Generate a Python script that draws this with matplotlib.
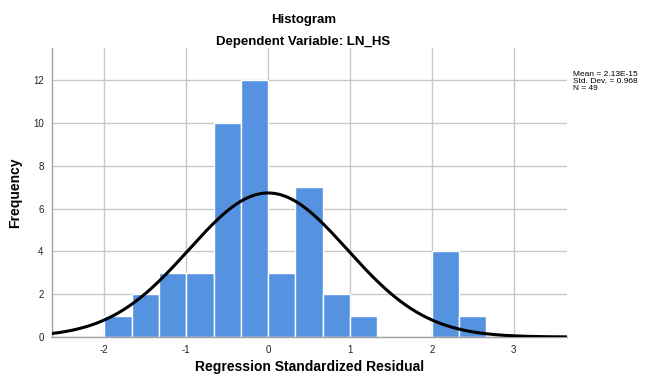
import numpy as np
import matplotlib.pyplot as plt

# histogram of regression standardized residuals
bin_edges = [-2.0, -5/3, -4/3, -1.0, -2/3, -1/3, 0.0, 1/3, 2/3, 1.0, 4/3, 5/3, 2.0, 7/3]
counts = [1, 2, 3, 3, 10, 12, 3, 7, 2, 1, 0, 0, 4, 1]
mean = 2.13e-15
std = 0.968
n = 49
bin_width = 1/3

plt.rcParams['font.family'] = ['Liberation Sans', 'DejaVu Sans']
plt.rcParams['axes.unicode_minus'] = False

fig = plt.figure(figsize=(6.48, 3.76), dpi=100)
ax = fig.add_axes([0.0802, 0.1037, 0.7948, 0.7683])

ax.bar(bin_edges, counts, width=bin_width, align='edge', color='#5592e0',
       edgecolor='white', linewidth=1.0, zorder=2)

xs = np.linspace(-2.64, 3.65, 400)
ys = n * bin_width / (std * np.sqrt(2 * np.pi)) * np.exp(-0.5 * ((xs - mean) / std) ** 2)
ax.plot(xs, ys, color='black', linewidth=2.2, zorder=3)

ax.set_xlim(-2.64, 3.65)
ax.set_ylim(0, 13.5)
ax.set_xticks([-2, -1, 0, 1, 2, 3])
ax.set_yticks([0, 2, 4, 6, 8, 10, 12])
ax.grid(True, color='#c8c8c8', linewidth=1.0, zorder=0)
ax.set_axisbelow(True)
for s in ['top', 'right']:
    ax.spines[s].set_visible(False)
for s in ['left', 'bottom']:
    ax.spines[s].set_color('#a0a0a0')
    ax.spines[s].set_linewidth(1.0)
ax.tick_params(length=0, labelsize=7, colors='#222222', pad=6)

ax.set_xlabel('Regression Standardized Residual', fontsize=10, fontweight='bold', labelpad=3)
ax.set_ylabel('Frequency', fontsize=10, fontweight='bold', labelpad=8)

fig.text(0.468, 0.947, 'Histogram', ha='center', va='center', fontsize=9.5, fontweight='bold')
fig.text(0.468, 0.888, 'Dependent Variable: LN_HS', ha='center', va='center', fontsize=9.5, fontweight='bold')

fig.text(0.884, 0.81, 'Mean = 2.13E-15\nStd. Dev. = 0.968\nN = 49', ha='left', va='top',
         fontsize=6, linespacing=0.95)

fig.savefig('out.png', dpi=100)
